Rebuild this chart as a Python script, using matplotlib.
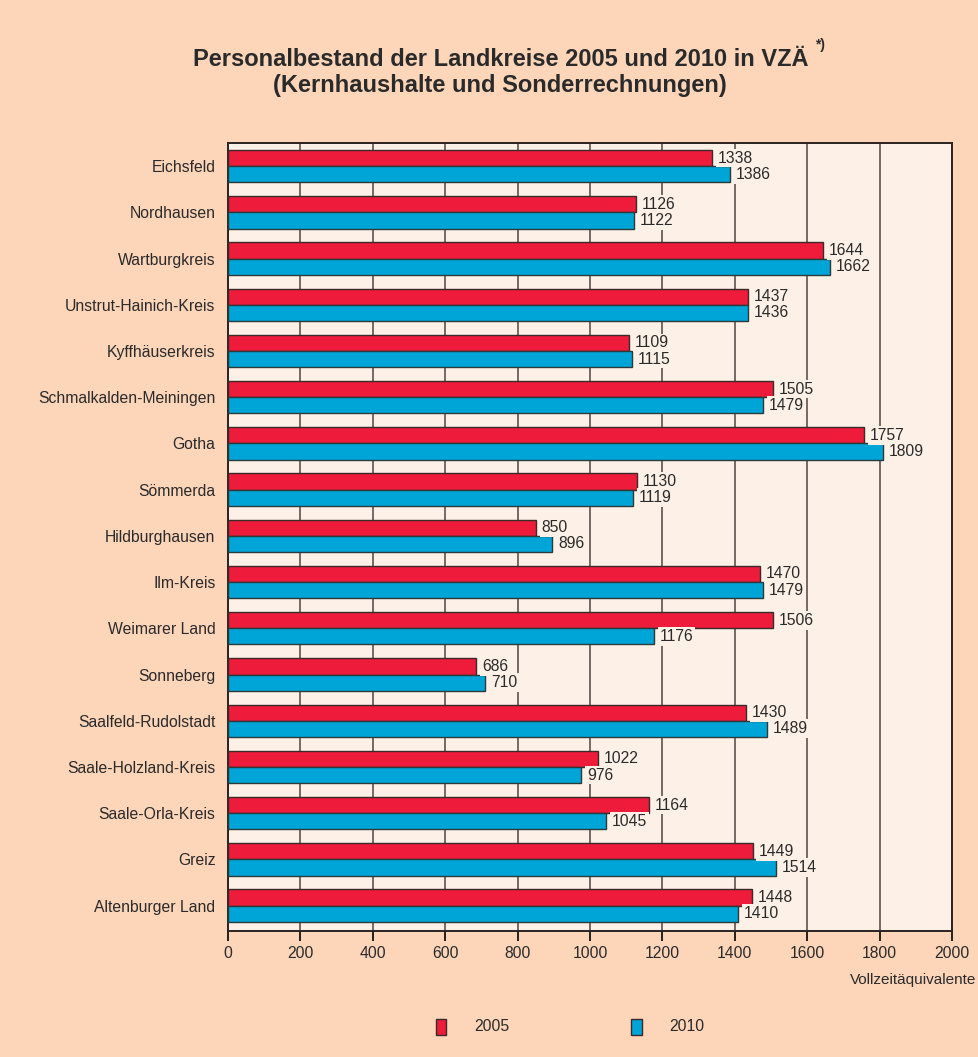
import numpy as np
import matplotlib
matplotlib.use("Agg")
import matplotlib.pyplot as plt
from matplotlib.patches import Rectangle

# --------------------------------------------
# Data
# --------------------------------------------
kreise = ["Eichsfeld", "Nordhausen", "Wartburgkreis", "Unstrut-Hainich-Kreis",
          "Kyffhäuserkreis", "Schmalkalden-Meiningen", "Gotha", "Sömmerda",
          "Hildburghausen", "Ilm-Kreis", "Weimarer Land", "Sonneberg",
          "Saalfeld-Rudolstadt", "Saale-Holzland-Kreis", "Saale-Orla-Kreis",
          "Greiz", "Altenburger Land"]
werte_2005 = [1338, 1126, 1644, 1437, 1109, 1505, 1757, 1130, 850,
              1470, 1506, 686, 1430, 1022, 1164, 1449, 1448]
werte_2010 = [1386, 1122, 1662, 1436, 1115, 1479, 1809, 1119, 896,
              1479, 1176, 710, 1489, 976, 1045, 1514, 1410]
jahre = ["2005", "2010"]

FIG_BG = "#fdd5b9"
AX_BG = "#fdf0e6"
RED = "#ee1c3a"
BLUE = "#00a5d8"
TXT = "#2a2a2a"

plt.rcParams["font.family"] = ["Liberation Sans", "DejaVu Sans"]

fig = plt.figure(figsize=(9.79, 10.57), dpi=100, facecolor=FIG_BG)
ax = fig.add_axes([0.2329, 0.1192, 0.7395, 0.7455], facecolor=AX_BG)

y = np.arange(len(kreise))
h = 0.35
ax.barh(y - h / 2, werte_2005, height=h, color=RED, edgecolor="#3a2a2a",
        linewidth=1.0, zorder=3)
ax.barh(y + h / 2, werte_2010, height=h, color=BLUE, edgecolor="#2a3a3a",
        linewidth=1.0, zorder=3)

for i in range(len(kreise)):
    for v, off in ((werte_2005[i], -h / 2), (werte_2010[i], h / 2)):
        ax.text(v + 16, y[i] + off, str(v), va="center", ha="left",
                fontsize=11.3, color=TXT, zorder=4,
                bbox=dict(boxstyle="square,pad=0.12", fc=AX_BG, ec="none"))

ax.set_xlim(0, 2000)
ax.set_ylim(len(kreise) - 0.45, -0.5)
ax.set_xticks(np.arange(0, 2001, 200))
ax.set_yticks(y)
ax.set_yticklabels(kreise, fontsize=11.3, color=TXT)
ax.tick_params(axis="x", direction="out", length=7, width=1.2,
               labelsize=11.3, labelcolor=TXT, pad=4)
ax.tick_params(axis="y", length=0, pad=9)
ax.grid(axis="x", color="#6b5e5a", linewidth=1.3, zorder=1)
for s in ax.spines.values():
    s.set_color("#2b2222")
    s.set_linewidth(1.4)

fig.text(0.997, 0.073, "Vollzeitäquivalente", ha="right", va="center",
         fontsize=11, color=TXT)

# Title
fig.text(0.511, 0.944, "Personalbestand der Landkreise 2005 und 2010 in VZÄ",
         ha="center", va="center", fontsize=17, fontweight="bold",
         color=TXT)
fig.text(0.832, 0.957, "*)", ha="left", va="center", fontsize=10,
         fontweight="bold", color=TXT)
fig.text(0.511, 0.919, "(Kernhaushalte und Sonderrechnungen)",
         ha="center", va="center", fontsize=17, fontweight="bold",
         color=TXT)

# Legend
for xs, col, lab in ((0.445, RED, jahre[0]), (0.645, BLUE, jahre[1])):
    fig.patches.append(Rectangle((xs, 0.021), 0.011, 0.015, transform=fig.transFigure,
                                 facecolor=col, edgecolor="#3a2a2a", linewidth=1.0))
    fig.text(xs + 0.039, 0.029, lab, ha="left", va="center", fontsize=11.3,
             color=TXT)

fig.savefig("out.png", dpi=100, facecolor=FIG_BG)
